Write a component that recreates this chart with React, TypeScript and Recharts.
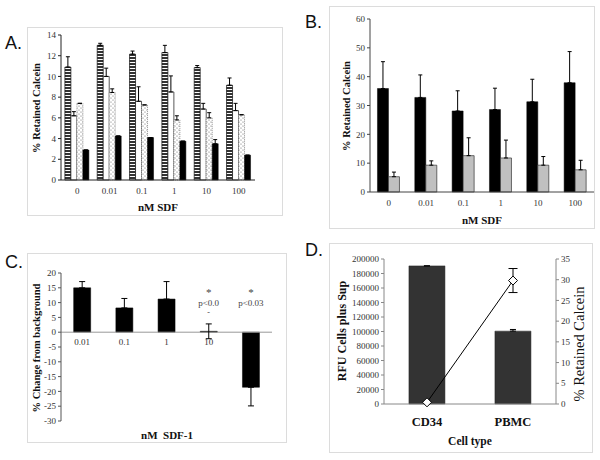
import React from 'react';
import {
  BarChart,
  Bar,
  XAxis,
  YAxis,
  ErrorBar,
  ComposedChart,
  Line,
  ReferenceLine,
  ReferenceDot,
} from 'recharts';

const serif = '"Liberation Serif", "Times New Roman", serif';
const sans = '"Liberation Sans", Arial, sans-serif';

// ---------- Panel A ----------
const aCategories = ['0', '0.01', '0.1', '1', '10', '100'];
const aStriped = [10.9, 13.0, 12.15, 12.3, 10.85, 9.15];
const aStripedErr = [1.0, 0.2, 0.3, 0.7, 0.2, 0.7];
const aWhite = [6.2, 10.0, 7.6, 8.5, 6.85, 6.7];
const aWhiteErr = [0.4, 0.8, 1.4, 1.55, 0.55, 0.7];
const aDotted = [7.4, 8.45, 7.25, 5.8, 6.0, 6.3];
const aDottedErr = [0, 0.35, 0, 0.4, 0.5, 0];
const aBlack = [2.9, 4.25, 4.1, 3.75, 3.5, 2.4];
const aBlackErr = [0, 0, 0, 0, 0.4, 0];
const aTicks = [0, 2, 4, 6, 8, 10, 12, 14];

// ---------- Panel B ----------
const bCategories = ['0', '0.01', '0.1', '1', '10', '100'];
const bBlack = [35.9, 32.8, 28.1, 28.6, 31.3, 37.9];
const bBlackErr = [9.3, 7.8, 7.0, 7.4, 7.8, 10.8];
const bGray = [5.3, 9.3, 12.6, 11.8, 9.3, 7.7];
const bGrayErr = [1.6, 1.5, 6.2, 6.2, 3.0, 3.3];
const bTicks = [0, 10, 20, 30, 40, 50, 60];

// ---------- Panel C ----------
const cCategories = ['0.01', '0.1', '1', '10', '100'];
const cValues = [15.0, 8.2, 11.2, 0.3, -18.6];
const cErrLow = [0, 0, 0, 2.5, 6.3];
const cErrHigh = [2.1, 3.2, 5.9, 2.5, 0];
const cTicks = [-30, -25, -20, -15, -10, -5, 0, 5, 10, 15, 20];
const cNoteCats = ['10', '100'];
const cStarValue = 13.6;
const cPTexts = ['p<0.0', 'p<0.03'];
const cPValue = 9.9;
const cDashValue = 6.7;

// ---------- Panel D ----------
const dCategories = ['CD34', 'PBMC'];
const dRfu = [190500, 100500];
const dRfuErr = [0, 2300];
const dRetained = [0.4, 29.8];
const dRetainedErr = [0, 2.9];
const dLeftTicks = [0, 20000, 40000, 60000, 80000, 100000, 120000, 140000, 160000, 180000, 200000];
const dRightTicks = [0, 5, 10, 15, 20, 25, 30, 35];

const aData = aCategories.map((c, i) => ({
  cat: c,
  s1: aStriped[i],
  e1: [0, aStripedErr[i]],
  s2: aWhite[i],
  e2: [0, aWhiteErr[i]],
  s3: aDotted[i],
  e3: [0, aDottedErr[i]],
  s4: aBlack[i],
  e4: [0, aBlackErr[i]],
}));

const bData = bCategories.map((c, i) => ({
  cat: c,
  k: bBlack[i],
  ke: [0, bBlackErr[i]],
  g: bGray[i],
  ge: [0, bGrayErr[i]],
}));

const cData = cCategories.map((c, i) => ({
  cat: c,
  v: cValues[i],
  ve: [cErrLow[i], cErrHigh[i]],
}));

const dData = dCategories.map((c, i) => ({
  cat: c,
  rfu: dRfu[i],
  rfuErr: [0, dRfuErr[i]],
  ret: dRetained[i],
  retErr: dRetainedErr[i],
}));

const tickStyle = { fontSize: 9, fontFamily: serif, fill: '#333' };

const Txt = ({ x, y, rot, size, bold, family, left, children }: any) => (
  <div
    style={{
      position: 'absolute',
      left: x,
      top: y,
      transform: `translate(${left ? '0' : '-50%'},-50%)${rot ? ' rotate(-90deg)' : ''}`,
      fontSize: size,
      fontWeight: bold ? 700 : 400,
      fontFamily: family || serif,
      whiteSpace: 'pre',
      lineHeight: 1,
      color: '#111',
    }}
  >
    {children}
  </div>
);

const Frame = ({ x, y, w, h }: any) => (
  <div
    style={{
      position: 'absolute',
      left: x,
      top: y,
      width: w,
      height: h,
      border: '1px solid #dcdcdc',
      boxSizing: 'border-box',
    }}
  />
);

const Diamond = (p: any) => {
  const { cx, cy, index } = p;
  if (cx == null || cy == null) return <g key={`d${index}`} />;
  const s = 4.5;
  return (
    <path
      key={`d${index}`}
      d={`M${cx},${cy - s} L${cx + s},${cy} L${cx},${cy + s} L${cx - s},${cy} Z`}
      fill="#fff"
      stroke="#000"
      strokeWidth={1}
    />
  );
};

function PanelA() {
  return (
    <div style={{ position: 'absolute', left: 28, top: 27 }}>
      <BarChart
        width={255}
        height={189}
        data={aData}
        margin={{ top: 8, right: 28, bottom: 0, left: 0 }}
        barGap={0}
        barCategoryGap="12%"
      >
        <defs>
          <pattern id="hstripe" width="4" height="3" patternUnits="userSpaceOnUse">
            <rect width="4" height="3" fill="#fff" />
            <rect width="4" height="2" fill="#333" />
          </pattern>
          <pattern id="dots" width="4" height="4" patternUnits="userSpaceOnUse">
            <rect width="4" height="4" fill="#fff" />
            <circle cx="1" cy="1" r="0.6" fill="#666" />
            <circle cx="3" cy="3" r="0.6" fill="#666" />
          </pattern>
        </defs>
        <XAxis
          dataKey="cat"
          tickLine={false}
          axisLine={{ stroke: '#222' }}
          tick={tickStyle}
          height={36}
          interval={0}
        />
        <XAxis xAxisId="top" orientation="top" dataKey="cat" tick={false} tickLine={false} axisLine={{ stroke: '#999' }} height={0} />
        <YAxis
          domain={[0, 14]}
          ticks={aTicks}
          width={33}
          tickSize={3}
          tickMargin={2}
          axisLine={{ stroke: '#222' }}
          tickLine={{ stroke: '#222' }}
          tick={tickStyle}
          interval={0}
        />
        <YAxis yAxisId="r" orientation="right" domain={[0, 1]} tick={false} tickLine={false} axisLine={{ stroke: '#999' }} width={0} />
        <Bar dataKey="s1" fill="url(#hstripe)" stroke="#111" strokeWidth={0.7} isAnimationActive={false}>
          <ErrorBar dataKey="e1" width={2} stroke="#000" strokeWidth={1} />
        </Bar>
        <Bar dataKey="s2" fill="#fff" stroke="#111" strokeWidth={0.7} isAnimationActive={false}>
          <ErrorBar dataKey="e2" width={2} stroke="#000" strokeWidth={1} />
        </Bar>
        <Bar dataKey="s3" fill="url(#dots)" stroke="#555" strokeWidth={0.6} strokeDasharray="1 1" isAnimationActive={false}>
          <ErrorBar dataKey="e3" width={2} stroke="#000" strokeWidth={1} />
        </Bar>
        <Bar dataKey="s4" fill="#000" stroke="#000" strokeWidth={0.5} isAnimationActive={false}>
          <ErrorBar dataKey="e4" width={2} stroke="#000" strokeWidth={1} />
        </Bar>
      </BarChart>
    </div>
  );
}

function PanelB() {
  return (
    <div style={{ position: 'absolute', left: 329, top: 6 }}>
      <BarChart
        width={267}
        height={223}
        data={bData}
        margin={{ top: 13, right: 2, bottom: 0, left: 0 }}
        barGap={0}
        barCategoryGap="20%"
      >
        <XAxis dataKey="cat" tickLine={false} axisLine={{ stroke: '#444' }} tick={tickStyle} height={37} interval={0} />
        <XAxis xAxisId="top" orientation="top" dataKey="cat" tick={false} tickLine={false} axisLine={{ stroke: '#999' }} height={0} />
        <YAxis
          domain={[0, 60]}
          ticks={bTicks}
          width={41}
          tickSize={3}
          tickMargin={2}
          axisLine={{ stroke: '#444' }}
          tickLine={{ stroke: '#444' }}
          tick={tickStyle}
          interval={0}
        />
        <YAxis yAxisId="r" orientation="right" domain={[0, 1]} tick={false} tickLine={false} axisLine={{ stroke: '#999' }} width={0} />
        <Bar dataKey="k" fill="#000" stroke="#000" strokeWidth={0.5} isAnimationActive={false}>
          <ErrorBar dataKey="ke" width={2} stroke="#000" strokeWidth={1} />
        </Bar>
        <Bar dataKey="g" fill="#c0c0c0" stroke="#333" strokeWidth={0.7} isAnimationActive={false}>
          <ErrorBar dataKey="ge" width={2} stroke="#000" strokeWidth={1} />
        </Bar>
      </BarChart>
    </div>
  );
}

function PanelC() {
  return (
    <div style={{ position: 'absolute', left: 27, top: 253 }}>
      <BarChart
        width={260}
        height={190}
        data={cData}
        margin={{ top: 20, right: 15, bottom: 22, left: 0 }}
        barCategoryGap="30%"
      >
        <XAxis dataKey="cat" tick={false} tickLine={false} axisLine={{ stroke: '#999' }} height={0} />
        <XAxis xAxisId="top" orientation="top" dataKey="cat" tick={false} tickLine={false} axisLine={{ stroke: '#999' }} height={0} />
        <YAxis
          domain={[-30, 20]}
          ticks={cTicks}
          width={34}
          tickSize={3}
          tickMargin={2}
          axisLine={{ stroke: '#555' }}
          tickLine={{ stroke: '#555' }}
          tick={tickStyle}
          interval={0}
        />
        <YAxis yAxisId="r" orientation="right" domain={[0, 1]} tick={false} tickLine={false} axisLine={{ stroke: '#999' }} width={0} />
        <ReferenceLine y={0} stroke="#999" strokeWidth={1} />
        {cCategories
          .filter((c, i) => cValues[i] >= 0)
          .map((c) => (
            <ReferenceDot
              key={`lbl${c}`}
              x={c}
              y={0}
              r={0}
              fill="none"
              stroke="none"
              ifOverflow="visible"
              label={{ value: c, position: 'bottom', offset: 6, fontSize: 9, fontFamily: serif, fill: '#333' }}
            />
          ))}
        <Bar dataKey="v" fill="#000" stroke="#000" strokeWidth={0.5} isAnimationActive={false}>
          <ErrorBar dataKey="ve" width={3} stroke="#000" strokeWidth={1} />
        </Bar>
        {cNoteCats.map((c) => (
          <ReferenceDot
            key={`star${c}`}
            x={c}
            y={cStarValue}
            r={0}
            fill="none"
            stroke="none"
            ifOverflow="visible"
            label={{ value: '*', position: 'center', fontSize: 11, fontFamily: serif, fill: '#444' }}
          />
        ))}
        {cNoteCats.map((c, i) => (
          <ReferenceDot
            key={`p${c}`}
            x={c}
            y={cPValue}
            r={0}
            fill="none"
            stroke="none"
            ifOverflow="visible"
            label={{ value: cPTexts[i], position: 'center', fontSize: 9, fontFamily: serif, fill: '#444' }}
          />
        ))}
        <ReferenceDot
          x={cNoteCats[0]}
          y={cDashValue}
          r={0}
          fill="none"
          stroke="none"
          ifOverflow="visible"
          label={{ value: '-', position: 'center', fontSize: 8, fontFamily: serif, fill: '#444' }}
        />
      </BarChart>
    </div>
  );
}

function PanelD() {
  return (
    <div style={{ position: 'absolute', left: 329, top: 243 }}>
      <ComposedChart
        width={264}
        height={210}
        data={dData}
        margin={{ top: 16, right: 0, bottom: 0, left: 0 }}
        barCategoryGap="29%"
      >
        <XAxis
          dataKey="cat"
          height={49}
          tickLine={false}
          axisLine={{ stroke: '#888' }}
          tick={{ fontSize: 12.5, fontWeight: 700, fontFamily: serif, fill: '#111' }}
          tickMargin={7}
          interval={0}
        />
        <XAxis xAxisId="top" orientation="top" dataKey="cat" tick={false} tickLine={false} axisLine={{ stroke: '#999' }} height={0} />
        <YAxis
          yAxisId="left"
          domain={[0, 200000]}
          ticks={dLeftTicks}
          width={55}
          tickSize={3}
          tickMargin={2}
          axisLine={{ stroke: '#888' }}
          tickLine={{ stroke: '#888' }}
          tick={tickStyle}
          interval={0}
        />
        <YAxis
          yAxisId="right"
          orientation="right"
          domain={[0, 35]}
          ticks={dRightTicks}
          width={37}
          tickSize={3}
          tickMargin={2}
          axisLine={{ stroke: '#888' }}
          tickLine={{ stroke: '#888' }}
          tick={tickStyle}
          interval={0}
        />
        <Bar yAxisId="left" dataKey="rfu" fill="#333" stroke="#222" strokeWidth={0.5} isAnimationActive={false}>
          <ErrorBar dataKey="rfuErr" width={3} stroke="#000" strokeWidth={1} />
        </Bar>
        <Line
          yAxisId="right"
          dataKey="ret"
          type="linear"
          stroke="#000"
          strokeWidth={1}
          dot={Diamond}
          activeDot={false}
          isAnimationActive={false}
        >
          <ErrorBar dataKey="retErr" width={4.5} stroke="#000" strokeWidth={1} />
        </Line>
      </ComposedChart>
    </div>
  );
}

export default function App() {
  return (
    <div
      style={{
        position: 'absolute',
        left: 0,
        top: 0,
        width: 600,
        height: 460,
        background: '#fff',
        overflow: 'hidden',
      }}
    >
      <Frame x={27} y={27} w={256} h={189} />
      <Frame x={329} y={6} w={266} h={223} />
      <Frame x={27} y={253} w={260} h={190} />
      <Frame x={329} y={243} w={264} h={210} />

      <PanelA />
      <PanelB />
      <PanelC />
      <PanelD />

      <Txt x={5} y={43} size={18} family={sans} left>A.</Txt>
      <Txt x={305} y={22} size={18} family={sans} left>B.</Txt>
      <Txt x={5} y={262} size={18} family={sans} left>C.</Txt>
      <Txt x={305} y={250} size={18} family={sans} left>D.</Txt>

      <Txt x={37} y={108} size={10.5} bold rot>% Retained Calcein</Txt>
      <Txt x={158} y={207} size={11} bold>nM SDF</Txt>

      <Txt x={347} y={106} size={10.5} bold rot>% Retained Calcein</Txt>
      <Txt x={482} y={220} size={11} bold>nM SDF</Txt>

      <Txt x={37} y={348} size={10.5} bold rot>% Change from background</Txt>
      <Txt x={167} y={435} size={11} bold>{'nM  SDF-1'}</Txt>

      <Txt x={342} y={331} size={12} bold rot>RFU Cells plus Sup</Txt>
      <Txt x={579} y={344} size={14.5} rot>% Retained Calcein</Txt>
      <Txt x={470} y={442} size={11.5} bold>Cell type</Txt>
    </div>
  );
}
